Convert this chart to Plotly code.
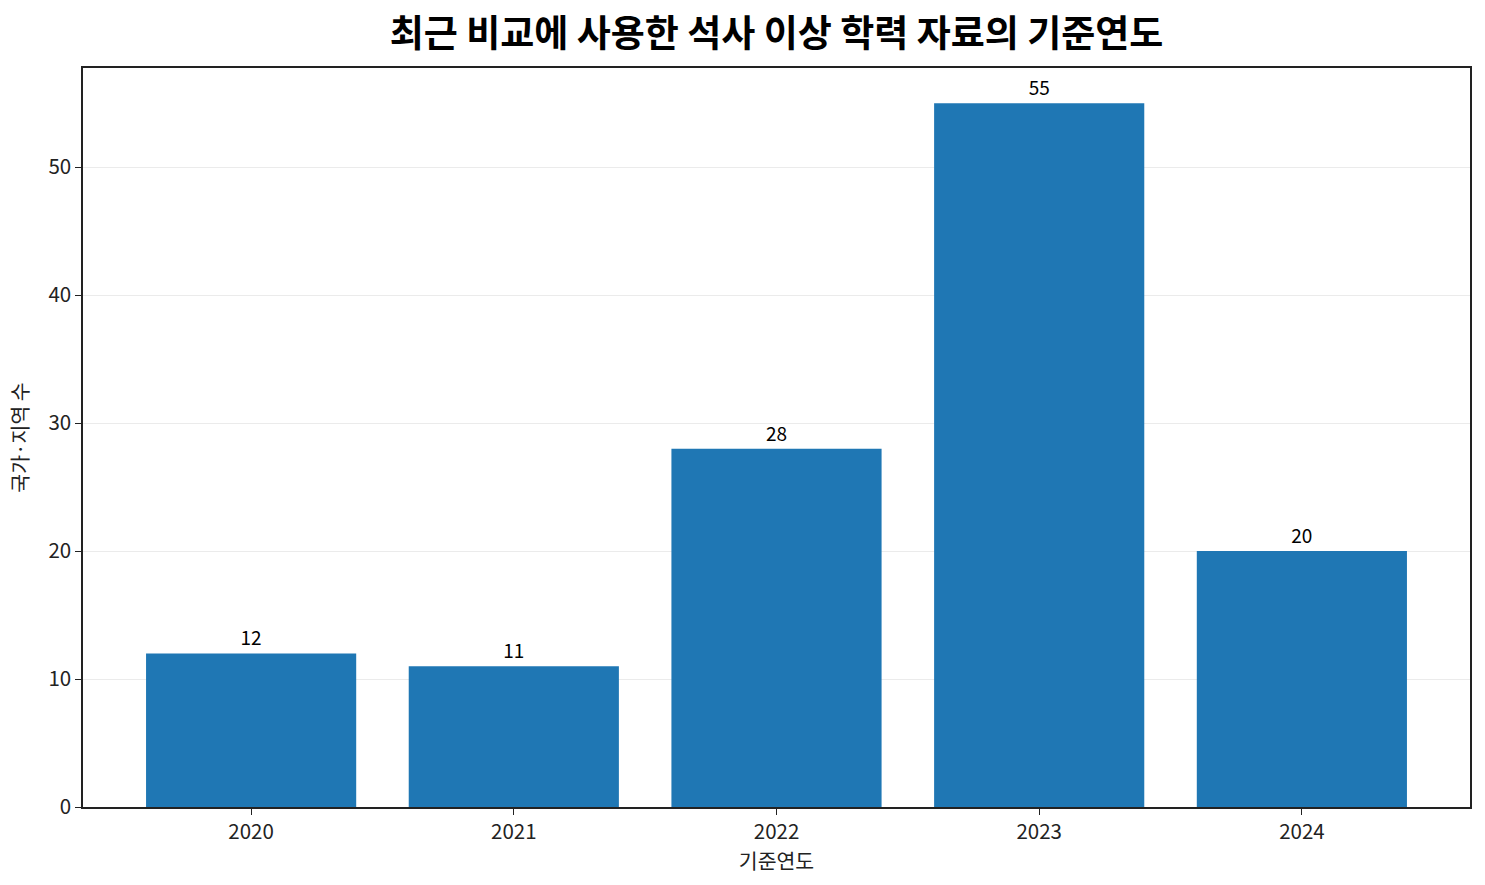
import plotly.graph_objects as go

# data
years = ["2020", "2021", "2022", "2023", "2024"]
counts = [12, 11, 28, 55, 20]

FONT = "Noto Sans CJK KR"

fig = go.Figure()
fig.add_trace(
    go.Bar(
        x=list(range(len(years))),
        y=counts,
        width=0.8,
        marker_color="#1f77b4",
        marker_line_width=0,
        text=[str(c) for c in counts],
        textposition="outside",
        textfont=dict(size=19, color="black", family=FONT),
        cliponaxis=False,
        hovertemplate="%{y}<extra></extra>",
    )
)

fig.update_layout(
    width=1485,
    height=885,
    margin=dict(l=83, r=15, t=68, b=78),
    plot_bgcolor="white",
    paper_bgcolor="white",
    font=dict(family=FONT, size=20, color="#222"),
    title=dict(
        text="<b>최근 비교에 사용한 석사 이상 학력 자료의 기준연도</b>",
        xref="paper", x=0.5, xanchor="center", y=0.962, yanchor="middle",
        font=dict(size=37, color="black", family=FONT),
    ),
    showlegend=False,
)

fig.update_xaxes(
    range=[-0.64, 4.64],
    tickmode="array",
    tickvals=list(range(len(years))),
    ticktext=years,
    ticks="outside", ticklen=6, tickcolor="#222",
    showline=True, linecolor="#222", linewidth=1.5, mirror=True,
    showgrid=False, zeroline=False,
    title=dict(text="기준연도", font=dict(size=20.5), standoff=6),
    tickfont=dict(size=20.5),
    automargin=False,
)

fig.update_yaxes(
    range=[0, 57.75],
    tickvals=[0, 10, 20, 30, 40, 50],
    ticks="outside", ticklen=6, tickcolor="#222",
    showline=True, linecolor="#222", linewidth=1.5, mirror=True,
    showgrid=True, gridcolor="rgba(0,0,0,0.08)", gridwidth=1,
    zeroline=False,
    layer="above traces",
    title=dict(text="국가·지역 수", font=dict(size=20.5), standoff=14),
    tickfont=dict(size=20.5),
    automargin=False,
)

fig.write_html(
    "out.html",
    config={"displayModeBar": False},
    post_script="document.body.style.margin='0';",
)
